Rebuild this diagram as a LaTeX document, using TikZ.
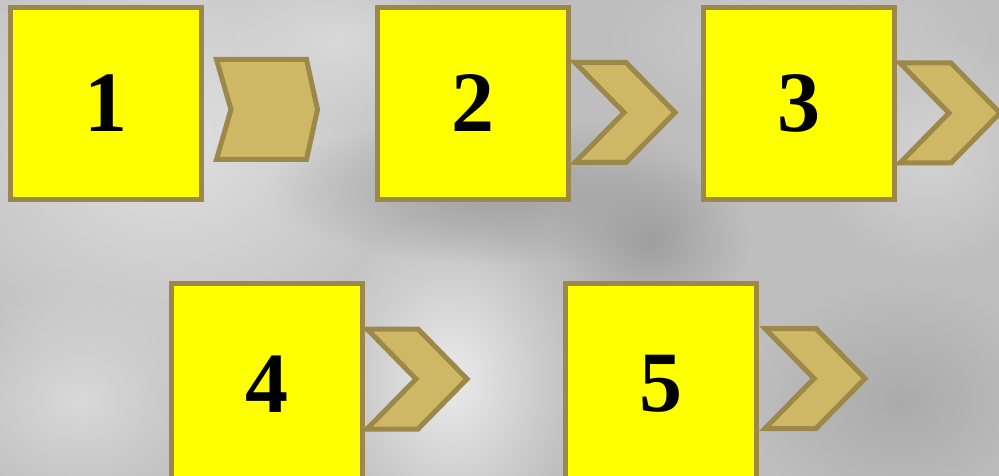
\documentclass[tikz,border=0pt]{standalone}
\usepackage{fontspec}
\setmainfont{Liberation Serif}
\usetikzlibrary{positioning,fadings}

\definecolor{frame}{HTML}{9C8848}
\definecolor{chevfill}{HTML}{CEB865}
\definecolor{boxyellow}{HTML}{FFFF00}
\definecolor{bgbase}{HTML}{BEBEBE}
\tikzfading[name=softblob, inner color=transparent!0, outer color=transparent!100]

\begin{document}
\begin{tikzpicture}[x=1pt, y=-1pt,
  sqbox/.style={rectangle, draw=frame, fill=boxyellow, line width=5pt,
    minimum size=191pt, inner sep=0pt, font=\fontsize{86}{86}\selectfont\bfseries},
  lowbox/.style={sqbox, minimum height=201pt},
  chev/.style={draw=frame, fill=chevfill, line width=5pt, line join=miter},
  blob/.style={path fading=softblob},
]
\useasboundingbox (0,0) rectangle (999,476);
\clip (0,0) rectangle (999,476);

%% -- Background --
\fill[bgbase] (0,0) rectangle (999,476);
\fill[blob, black!12] (170,140) ellipse (300 and 260);
\fill[blob, black!15] (340,40)  ellipse (120 and 80);
\fill[blob, black!8]  (450,380) ellipse (130 and 170);
\fill[blob, black!15] (80,400)  ellipse (150 and 120);
\fill[blob, black!17] (930,150) ellipse (120 and 120);
\fill[blob, black!20] (800,40)  ellipse (200 and 90);
\fill[blob, black!37] (500,190) ellipse (230 and 75);
\fill[blob, black!33] (900,400) ellipse (150 and 120);
\fill[blob, black!38] (650,240) ellipse (100 and 80);

%% -- Top row --
\node[sqbox] (b1) at (106,103.5)         {1};
\node[sqbox, right=171pt of b1] (b2)     {2};
\node[sqbox, right=130pt of b2] (b3)     {3};
%% -- Bottom row (runs off the lower edge) --
\node[lowbox] (b4) at (267,384)          {4};
\node[lowbox, right=198pt of b4] (b5)    {5};

%% -- Chevrons --
\draw[chev] (216.5,59.5) -- (306.5,59.5) -- (317.5,109.5) -- (306.5,159.5)
  -- (216.5,159.5) -- (231,109.5) -- cycle;
\foreach \cx/\cy in {575/112.5, 900/113, 367/379, 765/378.5}
  \draw[chev] (\cx,\cy-50) -- ++(51,0) -- ++(49,50) -- ++(-49,50)
    -- ++(-51,0) -- ++(49,-50) -- cycle;
\end{tikzpicture}
\end{document}
